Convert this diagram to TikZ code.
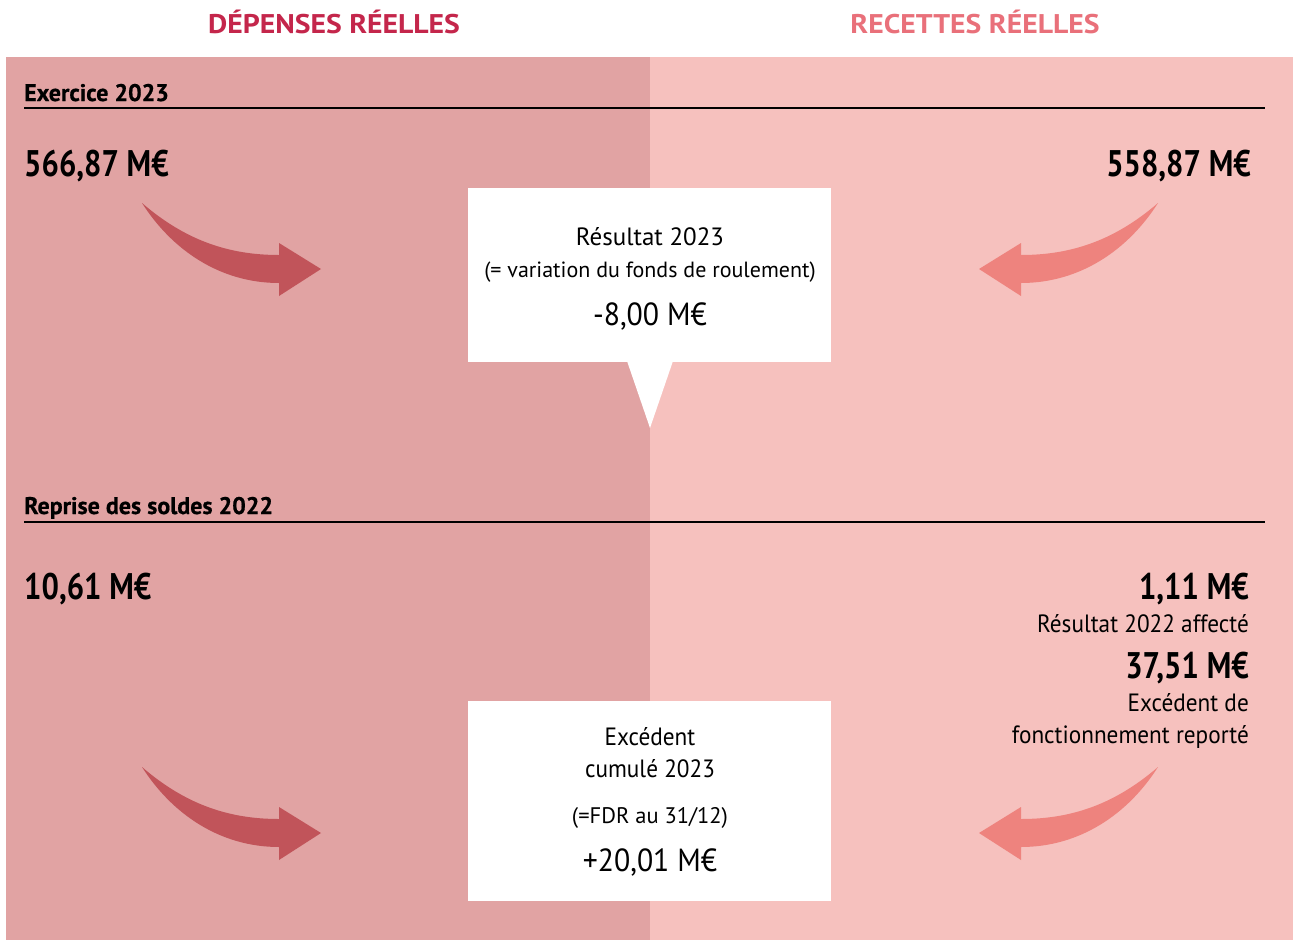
\documentclass[tikz,border=0pt]{standalone}
\usepackage{fontspec}
\setmainfont{PT Sans}[FakeStretch=0.93]
\newfontfamily\ouvert{PT Sans}
\newfontfamily\chiffres{PT Sans}[FakeStretch=0.83]
\newfontfamily\titre{PT Sans}[BoldFeatures={FakeBold=0.6}]
\newfontfamily\entetefont{PT Sans}[FakeStretch=1.1]
\definecolor{fondD}{HTML}{E1A3A3}
\definecolor{fondR}{HTML}{F6C1BE}
\definecolor{flecheD}{HTML}{C1545A}
\definecolor{flecheR}{HTML}{EE837E}
\definecolor{titreD}{HTML}{C4264B}
\definecolor{titreR}{HTML}{E9707A}
\tikzset{
  fleche/.pic={
    \fill (142,203) .. controls (185,240) and (228,255) .. (279,255)
      -- (279,243) -- (321,269) -- (279,296) -- (279,283)
      .. controls (220,283) and (172,250) .. cycle;
  }
}
\begin{document}
\begin{tikzpicture}[x=1pt,y=-1pt]
\tikzstyle{entete} = [font=\fontsize{27}{29}\selectfont\entetefont\bfseries, anchor=base];
\tikzstyle{rubrique} = [font=\fontsize{24}{26}\selectfont\titre\bfseries, anchor=base west, inner sep=0];
\tikzstyle{montant} = [font=\fontsize{37}{40}\selectfont\chiffres\bfseries, inner sep=0];
\tikzstyle{texte} = [font=\fontsize{25}{28}\selectfont, inner sep=0, anchor=base];
\tikzstyle{bulle} = [fill=white, draw=none];
\useasboundingbox (0,0) rectangle (1293,940);
\fill[white] (0,0) rectangle (1293,940);
\fill[fondD] (6,57) rectangle (650,940);
\fill[fondR] (650,57) rectangle (1293,940);

% titres
\node[entete, text=titreD] (dep) at (334,33) {DÉPENSES RÉELLES};
\node[entete, text=titreR] (rec) at (975,33) {RECETTES RÉELLES};

% exercice 2023
\node[rubrique] (ex) at (24,101) {Exercice 2023};
\draw[line width=1.2pt] (24,108) -- (1265,108);
\node[montant, anchor=base west] (depex) at (24,176) {566,87 M€};
\node[montant, anchor=base east] (recex) at (1251,176) {558,87 M€};
\fill[flecheD] (0,0) pic {fleche};
\fill[flecheR] (1300,0) pic[xscale=-1] {fleche};

\fill[bulle] (468,188) rectangle (831,362);
\fill[bulle] (627,361) -- (673,361) -- (650,428) -- cycle;
\node[texte, font=\fontsize{25}{28}\selectfont\ouvert] (res) at (650,245) {Résultat 2023};
\node[texte, font=\fontsize{22}{25}\selectfont\ouvert] (var) at (650,277) {(= variation du fonds de roulement)};
\node[texte, font=\fontsize{32}{35}\selectfont] (fdr) at (650,325) {-8,00 M€};

% reprise des soldes
\node[rubrique] (rep) at (24,514) {Reprise des soldes 2022};
\draw[line width=1.2pt] (24,522) -- (1265,522);
\node[montant, anchor=base west] (deprep) at (24,599) {10,61 M€};
\node[montant, anchor=base east] (recaff) at (1249,599) {1,11 M€};
\node[texte, anchor=base east] (aff) at (1249,632) {Résultat 2022 affecté};
\node[montant, anchor=base east] (recfon) at (1249,678) {37,51 M€};
\node[texte, anchor=base east] (exc) at (1249,711) {Excédent de};
\node[texte, anchor=base east] (fon) at (1249,743) {fonctionnement reporté};
\fill[flecheD] (0,564) pic {fleche};
\fill[flecheR] (1300,564) pic[xscale=-1] {fleche};

\fill[bulle] (468,701) rectangle (831,901);
\node[texte] (cum1) at (650,745) {Excédent};
\node[texte] (cum2) at (650,777) {cumulé 2023};
\node[texte, font=\fontsize{22.5}{25}\selectfont\ouvert] (fdr31) at (650,823) {(=FDR au 31/12)};
\node[texte, font=\fontsize{32}{35}\selectfont] (cum) at (650,871) {+20,01 M€};
\end{tikzpicture}
\end{document}
